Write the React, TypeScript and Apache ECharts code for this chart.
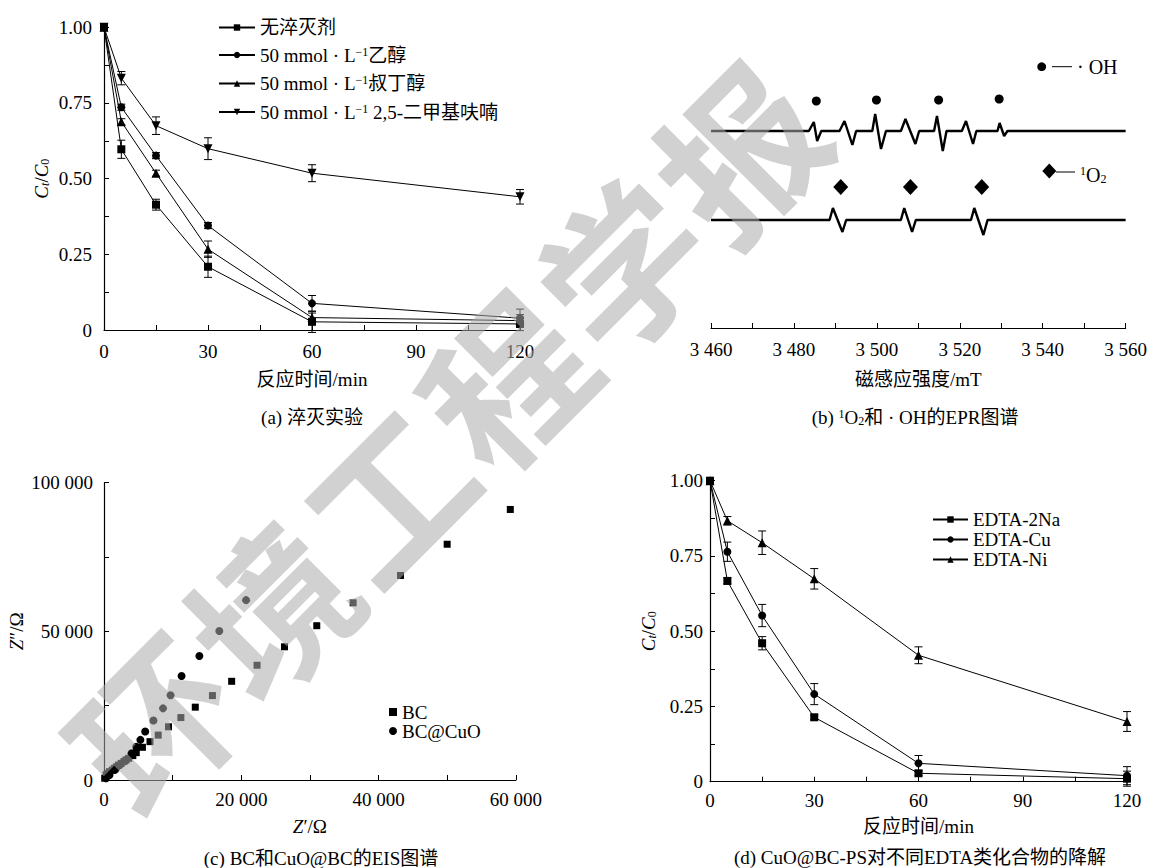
import React, { useEffect, useRef } from 'react';
import * as echarts from 'echarts';

const FONT = "'Liberation Serif', 'Times New Roman', 'Noto Sans CJK SC', serif";

// ---------- (a) quenching experiment ----------
const timeA = [0, 5, 15, 30, 60, 120];
const namesA = ['无淬灭剂', '50 mmol · L⁻¹乙醇', '50 mmol · L⁻¹叔丁醇', '50 mmol · L⁻¹ 2,5-二甲基呋喃'];
const legendRichA = ['无淬灭剂', '50 mmol · L{sup|−1}乙醇', '50 mmol · L{sup|−1}叔丁醇', '50 mmol · L{sup|−1} 2,5-二甲基呋喃'];
const noQuencher = [1.0, 0.597, 0.414, 0.209, 0.027, 0.02];
const noQuencherErr = [0, 0.03, 0.018, 0.035, 0.035, 0.022];
const ethanol = [1.0, 0.736, 0.576, 0.345, 0.088, 0.039];
const ethanolErr = [0, 0.01, 0.01, 0.01, 0.026, 0.03];
const tba = [1.0, 0.688, 0.518, 0.267, 0.041, 0.031];
const tbaErr = [0, 0.01, 0.01, 0.027, 0.015, 0.02];
const dmf = [1.0, 0.832, 0.675, 0.599, 0.518, 0.44];
const dmfErr = [0, 0.022, 0.029, 0.036, 0.028, 0.024];

// ---------- (b) EPR spectra (field mT, relative intensity) ----------
const ohTrace: [number, number][] = [
  [3460, 0], [3483.6, 0], [3484.8, 9], [3485.6, -10], [3486.6, 0],
  [3491.0, 0], [3492.2, 10], [3494.1, -14], [3495.0, 0],
  [3498.9, 0], [3499.6, 17], [3501.0, -18], [3502.2, 0],
  [3505.8, 0], [3506.9, 12], [3509.3, -13], [3510.2, 0],
  [3513.8, 0], [3514.5, 15], [3515.9, -20], [3516.8, 0],
  [3520.5, 0], [3521.5, 10], [3523.2, -13], [3524.0, 0],
  [3529.1, 0], [3529.6, 8], [3530.7, -5], [3531.5, 0], [3560, 0],
];
const o2Trace: [number, number][] = [
  [3460, 0], [3488.6, 0], [3489.4, 12], [3491.7, -12], [3492.6, 0],
  [3505.8, 0], [3506.6, 12], [3508.5, -12], [3509.4, 0],
  [3522.7, 0], [3523.5, 12], [3525.7, -15], [3526.7, 0], [3560, 0],
];
const ohOffset = 197;
const o2Offset = 108;
const ohMarkerField = [3485.4, 3499.9, 3514.9, 3529.5];
const ohMarkerLevel = [227, 228, 228, 229];
const o2MarkerField = [3491.3, 3508.1, 3525.3];
const o2MarkerLevel = [141, 141, 141];

// ---------- (c) EIS Nyquist (Ω) ----------
const bcZre = [59200, 50000, 43200, 36300, 31000, 26300, 22300, 18600, 15800, 13300, 11200, 9400, 7900, 6700, 5600, 4700, 4200, 3600, 3200, 2900, 2500, 2100, 1800, 1500, 1200, 800, 500, 300, 100];
const bcZim = [91000, 79300, 68800, 59600, 51900, 44800, 38600, 33200, 28400, 24500, 21000, 17900, 15100, 12900, 11000, 9200, 8200, 7300, 6700, 6200, 5600, 5000, 4400, 3900, 3300, 2800, 2200, 1700, 600];
const cuoZre = [20700, 16800, 13900, 11300, 9700, 8600, 7200, 6000, 5300, 4700, 4000, 3200, 2300, 1600, 800, 300];
const cuoZim = [60500, 50100, 41700, 35000, 28500, 24100, 20000, 16300, 13500, 11200, 9000, 6700, 5000, 3400, 1700, 600];

// ---------- (d) EDTA compounds ----------
const timeD = [0, 5, 15, 30, 60, 120];
const namesD = ['EDTA-2Na', 'EDTA-Cu', 'EDTA-Ni'];
const edta2Na = [1.0, 0.667, 0.46, 0.214, 0.028, 0.01];
const edta2NaErr = [0, 0.01, 0.022, 0.008, 0.008, 0.025];
const edtaCu = [1.0, 0.764, 0.552, 0.291, 0.061, 0.02];
const edtaCuErr = [0, 0.032, 0.037, 0.035, 0.026, 0.03];
const edtaNi = [1.0, 0.867, 0.794, 0.674, 0.42, 0.2];
const edtaNiErr = [0, 0.014, 0.039, 0.034, 0.028, 0.033];

// journal watermark characters
const watermarkChars = ['环', '境', '工', '程', '学', '报'];

const spaced = (v: number) => {
  const s = String(Math.round(v));
  return s.length > 3 ? s.slice(0, -3) + ' ' + s.slice(-3) : s;
};
const ratioFmt = (v: number) => (v === 0 ? '0' : v.toFixed(2));

const BLACK = '#000';

function axisBase(extra: any) {
  return {
    type: 'value',
    axisLine: { show: true, onZero: false, lineStyle: { color: BLACK, width: 1.2 } },
    axisTick: { show: true, inside: true, length: 5, lineStyle: { color: BLACK, width: 1 } },
    minorTick: { show: true, splitNumber: 2, length: 5, lineStyle: { color: BLACK, width: 1 } },
    splitLine: { show: false },
    minorSplitLine: { show: false },
    nameLocation: 'middle',
    nameTextStyle: { color: BLACK, fontFamily: FONT, fontSize: 19 },
    ...extra,
    axisLabel: { color: BLACK, fontFamily: FONT, fontSize: 19, ...(extra.axisLabel || {}) },
  };
}

const ctName = '{i|C}{st|t}{n|/}{i|C}{s0|0}';
const ctRich = {
  i: { fontFamily: FONT, fontSize: 19, fontStyle: 'italic', color: BLACK },
  n: { fontFamily: FONT, fontSize: 19, color: BLACK },
  st: { fontFamily: FONT, fontSize: 12, fontStyle: 'italic', color: BLACK, verticalAlign: 'bottom', padding: [8, 0, 0, 0] },
  s0: { fontFamily: FONT, fontSize: 12, color: BLACK, verticalAlign: 'bottom', padding: [8, 0, 0, 0] },
};

function errorBarRender(params: any, api: any) {
  const x = api.value(0);
  const y = api.value(1);
  const e = api.value(2);
  if (!e) return null;
  const hi = api.coord([x, y + e]);
  const lo = api.coord([x, y - e]);
  const w = 4;
  const style = { stroke: BLACK, lineWidth: 1 };
  return {
    type: 'group',
    children: [
      { type: 'line', shape: { x1: hi[0], y1: hi[1], x2: lo[0], y2: lo[1] }, style },
      { type: 'line', shape: { x1: hi[0] - w, y1: hi[1], x2: hi[0] + w, y2: hi[1] }, style },
      { type: 'line', shape: { x1: lo[0] - w, y1: lo[1], x2: lo[0] + w, y2: lo[1] }, style },
    ],
  };
}

function lineWithErr(name: string, xs: number[], ys: number[], errs: number[], axis: number, symbol: string, rotate: number, size: number) {
  return [
    {
      type: 'line', name, xAxisIndex: axis, yAxisIndex: axis,
      data: xs.map((x, i) => [x, ys[i]]),
      symbol, symbolRotate: rotate, symbolSize: size, showSymbol: true, clip: false,
      lineStyle: { color: BLACK, width: 1 }, itemStyle: { color: BLACK, opacity: 1 },
      z: 3,
    },
    {
      type: 'custom', name: name + '-err', xAxisIndex: axis, yAxisIndex: axis,
      data: xs.map((x, i) => [x, ys[i], errs[i]]),
      encode: { x: 0, y: 1 }, renderItem: errorBarRender, clip: false, silent: true, z: 2,
    },
  ];
}

function buildOption() {
  const supRich = {
    sup: { fontFamily: FONT, fontSize: 12, color: BLACK, verticalAlign: 'top', lineHeight: 12, padding: [0, 0, 8, 0] },
  };
  const aData = [noQuencher, ethanol, tba, dmf];
  const aErr = [noQuencherErr, ethanolErr, tbaErr, dmfErr];
  const aSym = ['rect', 'circle', 'triangle', 'triangle'];
  const aRot = [0, 0, 0, 180];
  const aSize = [8, 8, 9, 9];
  const dData = [edta2Na, edtaCu, edtaNi];
  const dErr = [edta2NaErr, edtaCuErr, edtaNiErr];
  const dSym = ['rect', 'circle', 'triangle'];
  const dSize = [8, 8, 9];

  const series: any[] = [];
  namesA.forEach((n, k) => series.push(...lineWithErr(n, timeA, aData[k], aErr[k], 0, aSym[k], aRot[k], aSize[k])));

  series.push({
    type: 'line', name: '·OH', xAxisIndex: 1, yAxisIndex: 1, symbol: 'none', clip: false,
    data: ohTrace.map(([f, s]) => [f, ohOffset + s]), lineStyle: { color: BLACK, width: 2.4 },
  });
  series.push({
    type: 'line', name: '1O2', xAxisIndex: 1, yAxisIndex: 1, symbol: 'none', clip: false,
    data: o2Trace.map(([f, s]) => [f, o2Offset + s]), lineStyle: { color: BLACK, width: 2.4 },
  });
  series.push({
    type: 'scatter', name: 'OH-mark', xAxisIndex: 1, yAxisIndex: 1, symbol: 'circle', symbolSize: 9,
    data: ohMarkerField.map((f, i) => [f, ohMarkerLevel[i]]), itemStyle: { color: BLACK, opacity: 1 },
  });
  series.push({
    type: 'scatter', name: 'O2-mark', xAxisIndex: 1, yAxisIndex: 1, symbol: 'diamond', symbolSize: [15, 16],
    data: o2MarkerField.map((f, i) => [f, o2MarkerLevel[i]]), itemStyle: { color: BLACK, opacity: 1 },
  });

  series.push({
    type: 'scatter', name: 'BC', xAxisIndex: 2, yAxisIndex: 2, symbol: 'rect', symbolSize: 7, clip: false,
    data: bcZre.map((x, i) => [x, bcZim[i]]), itemStyle: { color: BLACK, opacity: 1 },
  });
  series.push({
    type: 'scatter', name: 'BC@CuO', xAxisIndex: 2, yAxisIndex: 2, symbol: 'circle', symbolSize: 8, clip: false,
    data: cuoZre.map((x, i) => [x, cuoZim[i]]), itemStyle: { color: BLACK, opacity: 1 },
  });

  namesD.forEach((n, k) => series.push(...lineWithErr(n, timeD, dData[k], dErr[k], 3, dSym[k], 0, dSize[k])));

  const caption = (text: string, x: number, y: number, rich?: any) => ({
    type: 'text', x, y,
    style: {
      text, fill: BLACK, fontFamily: FONT, fontSize: 19,
      textAlign: 'center', textVerticalAlign: 'middle', align: 'center', verticalAlign: 'middle',
      rich,
    },
  });

  const smallRich = {
    sup: { fontFamily: FONT, fontSize: 12, fill: BLACK, verticalAlign: 'top', lineHeight: 12, padding: [0, 0, 8, 0] },
    sub: { fontFamily: FONT, fontSize: 12, fill: BLACK, verticalAlign: 'bottom', lineHeight: 12, padding: [8, 0, 0, 0] },
  };

  // watermark: one rotated character per element, along the diagonal
  const wmStart = [150, 720];
  const wmEnd = [735, 147];
  const watermark = watermarkChars.map((ch, i) => {
    const t = i / (watermarkChars.length - 1);
    return {
      type: 'text',
      x: wmStart[0] + (wmEnd[0] - wmStart[0]) * t,
      y: wmStart[1] + (wmEnd[1] - wmStart[1]) * t,
      rotation: Math.PI / 4, z: 100, silent: true,
      style: {
        text: ch, fill: 'rgb(171,171,171)', opacity: 0.55,
        fontFamily: "'Noto Sans CJK SC', sans-serif", fontWeight: 'bold', fontSize: 160,
        textAlign: 'center', textVerticalAlign: 'middle', align: 'center', verticalAlign: 'middle',
      },
    };
  });

  return {
    animation: false,
    backgroundColor: '#fff',
    textStyle: { fontFamily: FONT },
    grid: [
      { left: 104, top: 27.3, width: 416, height: 302.7 },
      { left: 711, top: 30, width: 416, height: 298 },
      { left: 104, top: 482.7, width: 411.8, height: 297.3 },
      { left: 710, top: 480.7, width: 417, height: 301 },
    ],
    xAxis: [
      axisBase({ gridIndex: 0, min: 0, max: 120, interval: 30, name: '反应时间/min', nameGap: 40, axisLabel: { margin: 12 } }),
      axisBase({ gridIndex: 1, min: 3460, max: 3560, interval: 20, name: '磁感应强度/mT', nameGap: 42, axisLabel: { margin: 12, formatter: spaced } }),
      axisBase({ gridIndex: 2, min: 0, max: 60000, interval: 20000, name: '{i|Z}′/Ω', nameGap: 37, axisLabel: { margin: 10, formatter: spaced },
        nameTextStyle: { color: BLACK, fontFamily: FONT, fontSize: 19, rich: ctRich } }),
      axisBase({ gridIndex: 3, min: 0, max: 120, interval: 30, name: '反应时间/min', nameGap: 35, axisLabel: { margin: 9 } }),
    ],
    yAxis: [
      axisBase({ gridIndex: 0, min: 0, max: 1, interval: 0.25, name: ctName, nameRotate: 90, nameGap: 53,
        nameTextStyle: { color: BLACK, fontFamily: FONT, fontSize: 19, rich: ctRich }, axisLabel: { margin: 12, formatter: ratioFmt } }),
      { gridIndex: 1, type: 'value', min: 0, max: 298, show: false },
      axisBase({ gridIndex: 2, min: 0, max: 100000, interval: 50000, name: '{i|Z}″/Ω', nameRotate: 90, nameGap: 78,
        nameTextStyle: { color: BLACK, fontFamily: FONT, fontSize: 19, rich: ctRich }, axisLabel: { margin: 11, formatter: spaced } }),
      axisBase({ gridIndex: 3, min: 0, max: 1, interval: 0.25, name: ctName, nameRotate: 90, nameGap: 52,
        nameTextStyle: { color: BLACK, fontFamily: FONT, fontSize: 19, rich: ctRich }, axisLabel: { margin: 7, formatter: ratioFmt } }),
    ],
    legend: [
      {
        data: namesA, orient: 'vertical', left: 218, top: 18, padding: 0, itemWidth: 36, itemHeight: 8, itemGap: 8.5,
        textStyle: { color: BLACK, fontFamily: FONT, fontSize: 19, lineHeight: 19, rich: supRich },
        formatter: (n: string) => legendRichA[namesA.indexOf(n)],
        selectedMode: false,
      },
      {
        data: ['BC', 'BC@CuO'], orient: 'vertical', left: 389, top: 702.5, padding: 0, itemWidth: 8, itemHeight: 8, itemGap: 0,
        textStyle: { color: BLACK, fontFamily: FONT, fontSize: 19, lineHeight: 18 }, selectedMode: false,
      },
      {
        data: namesD, orient: 'vertical', left: 932, top: 510, padding: 0, itemWidth: 35, itemHeight: 8, itemGap: 1,
        textStyle: { color: BLACK, fontFamily: FONT, fontSize: 19, lineHeight: 19 }, selectedMode: false,
      },
    ],
    graphic: [
      caption('(a) 淬灭实验', 312, 417),
      caption('(b) {sup|1}O{sub|2}和 · OH的EPR图谱', 915, 417, smallRich),
      caption('(c) BC和CuO@BC的EIS图谱', 321, 858),
      caption('(d) CuO@BC-PS对不同EDTA类化合物的降解', 920, 857),
      { type: 'circle', shape: { cx: 1041.7, cy: 66.7, r: 4.4 }, style: { fill: BLACK } },
      { type: 'line', shape: { x1: 1052, y1: 66.7, x2: 1072, y2: 66.7 }, style: { stroke: BLACK, lineWidth: 1 } },
      { type: 'text', x: 1077, y: 67, style: { text: '· OH', fill: BLACK, fontFamily: FONT, fontSize: 20, textVerticalAlign: 'middle', verticalAlign: 'middle' } },
      { type: 'polygon', shape: { points: [[1042.3, 171], [1049.3, 163.5], [1056.3, 171], [1049.3, 178.5]] }, style: { fill: BLACK } },
      { type: 'line', shape: { x1: 1056, y1: 172, x2: 1075, y2: 172 }, style: { stroke: BLACK, lineWidth: 1 } },
      {
        type: 'text', x: 1080, y: 175,
        style: {
          text: '{sup|1}O{sub|2}', fill: BLACK, fontFamily: FONT, fontSize: 20, textVerticalAlign: 'middle', verticalAlign: 'middle',
          rich: smallRich,
        },
      },
      ...watermark,
    ],
    series,
  };
}

export default function App() {
  const ref = useRef<HTMLDivElement>(null);
  useEffect(() => {
    const chart = echarts.init(ref.current as HTMLDivElement, null, { renderer: 'svg' });
    chart.setOption(buildOption() as any);
    return () => chart.dispose();
  }, []);
  return (
    <div
      ref={ref}
      style={{ position: 'absolute', left: 0, top: 0, width: 1150, height: 868, background: '#fff' }}
    />
  );
}
